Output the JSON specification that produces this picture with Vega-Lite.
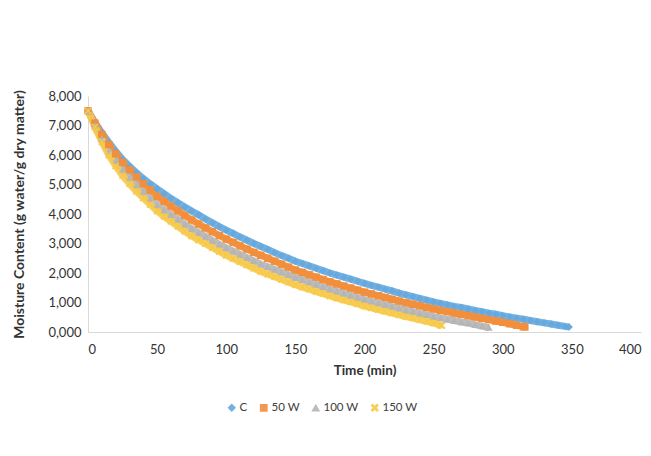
{
  "$schema": "https://vega.github.io/schema/vega-lite/v6.json",
  "width": 553,
  "height": 236,
  "autosize": {"type": "none"},
  "padding": {"left": 88, "top": 96, "right": 10, "bottom": 124},
  "background": "white",
  "config": {"view": {"stroke": null}, "font": "Lato"},
  "data": {"values": [
    {"t":0,"C":7.50,"50 W":7.50,"100 W":7.50,"150 W":7.50},
    {"t":5,"C":7.10,"50 W":7.08,"100 W":7.00,"150 W":6.95},
    {"t":10,"C":6.75,"50 W":6.70,"100 W":6.55,"150 W":6.45},
    {"t":15,"C":6.43,"50 W":6.35,"100 W":6.13,"150 W":6.00},
    {"t":20,"C":6.13,"50 W":6.04,"100 W":5.80,"150 W":5.63},
    {"t":25,"C":5.85,"50 W":5.75,"100 W":5.50,"150 W":5.30},
    {"t":30,"C":5.62,"50 W":5.50,"100 W":5.23,"150 W":5.03},
    {"t":35,"C":5.40,"50 W":5.26,"100 W":4.98,"150 W":4.77},
    {"t":40,"C":5.20,"50 W":5.03,"100 W":4.75,"150 W":4.54},
    {"t":45,"C":5.02,"50 W":4.81,"100 W":4.52,"150 W":4.32},
    {"t":50,"C":4.85,"50 W":4.60,"100 W":4.30,"150 W":4.10},
    {"t":55,"C":4.69,"50 W":4.43,"100 W":4.13,"150 W":3.92},
    {"t":60,"C":4.53,"50 W":4.27,"100 W":3.97,"150 W":3.75},
    {"t":65,"C":4.38,"50 W":4.11,"100 W":3.81,"150 W":3.58},
    {"t":70,"C":4.24,"50 W":3.95,"100 W":3.65,"150 W":3.41},
    {"t":75,"C":4.10,"50 W":3.80,"100 W":3.50,"150 W":3.25},
    {"t":80,"C":3.97,"50 W":3.66,"100 W":3.37,"150 W":3.12},
    {"t":85,"C":3.83,"50 W":3.53,"100 W":3.24,"150 W":2.99},
    {"t":90,"C":3.70,"50 W":3.40,"100 W":3.10,"150 W":2.86},
    {"t":95,"C":3.57,"50 W":3.27,"100 W":2.97,"150 W":2.73},
    {"t":100,"C":3.45,"50 W":3.15,"100 W":2.85,"150 W":2.60},
    {"t":105,"C":3.34,"50 W":3.04,"100 W":2.74,"150 W":2.49},
    {"t":110,"C":3.22,"50 W":2.92,"100 W":2.63,"150 W":2.38},
    {"t":115,"C":3.11,"50 W":2.81,"100 W":2.52,"150 W":2.27},
    {"t":120,"C":3.00,"50 W":2.70,"100 W":2.41,"150 W":2.16},
    {"t":125,"C":2.90,"50 W":2.60,"100 W":2.30,"150 W":2.05},
    {"t":130,"C":2.80,"50 W":2.50,"100 W":2.21,"150 W":1.96},
    {"t":135,"C":2.69,"50 W":2.40,"100 W":2.12,"150 W":1.87},
    {"t":140,"C":2.59,"50 W":2.30,"100 W":2.03,"150 W":1.78},
    {"t":145,"C":2.50,"50 W":2.20,"100 W":1.94,"150 W":1.69},
    {"t":150,"C":2.40,"50 W":2.10,"100 W":1.85,"150 W":1.60},
    {"t":155,"C":2.32,"50 W":2.02,"100 W":1.77,"150 W":1.52},
    {"t":160,"C":2.24,"50 W":1.94,"100 W":1.69,"150 W":1.45},
    {"t":165,"C":2.16,"50 W":1.86,"100 W":1.61,"150 W":1.37},
    {"t":170,"C":2.08,"50 W":1.78,"100 W":1.53,"150 W":1.30},
    {"t":175,"C":2.00,"50 W":1.70,"100 W":1.45,"150 W":1.22},
    {"t":180,"C":1.93,"50 W":1.63,"100 W":1.38,"150 W":1.15},
    {"t":185,"C":1.86,"50 W":1.56,"100 W":1.31,"150 W":1.08},
    {"t":190,"C":1.79,"50 W":1.49,"100 W":1.24,"150 W":1.02},
    {"t":195,"C":1.72,"50 W":1.42,"100 W":1.17,"150 W":0.95},
    {"t":200,"C":1.65,"50 W":1.35,"100 W":1.10,"150 W":0.88},
    {"t":205,"C":1.58,"50 W":1.29,"100 W":1.04,"150 W":0.82},
    {"t":210,"C":1.52,"50 W":1.23,"100 W":0.98,"150 W":0.76},
    {"t":215,"C":1.45,"50 W":1.17,"100 W":0.92,"150 W":0.70},
    {"t":220,"C":1.39,"50 W":1.11,"100 W":0.86,"150 W":0.64},
    {"t":225,"C":1.32,"50 W":1.05,"100 W":0.80,"150 W":0.58},
    {"t":230,"C":1.26,"50 W":0.99,"100 W":0.74,"150 W":0.52},
    {"t":235,"C":1.20,"50 W":0.94,"100 W":0.69,"150 W":0.47},
    {"t":240,"C":1.14,"50 W":0.89,"100 W":0.63,"150 W":0.41},
    {"t":245,"C":1.08,"50 W":0.83,"100 W":0.58,"150 W":0.36},
    {"t":250,"C":1.02,"50 W":0.78,"100 W":0.52,"150 W":0.30},
    {"t":255,"C":0.97,"50 W":0.73,"100 W":0.48,"150 W":0.23},
    {"t":256,"C":null,"50 W":null,"100 W":null,"150 W":0.22},
    {"t":260,"C":0.92,"50 W":0.69,"100 W":0.43,"150 W":null},
    {"t":265,"C":0.87,"50 W":0.64,"100 W":0.39,"150 W":null},
    {"t":270,"C":0.83,"50 W":0.60,"100 W":0.34,"150 W":null},
    {"t":275,"C":0.78,"50 W":0.55,"100 W":0.30,"150 W":null},
    {"t":280,"C":0.73,"50 W":0.51,"100 W":0.25,"150 W":null},
    {"t":285,"C":0.69,"50 W":0.46,"100 W":0.20,"150 W":null},
    {"t":290,"C":0.64,"50 W":0.42,"100 W":0.15,"150 W":null},
    {"t":295,"C":0.60,"50 W":0.37,"100 W":null,"150 W":null},
    {"t":300,"C":0.55,"50 W":0.33,"100 W":null,"150 W":null},
    {"t":305,"C":0.51,"50 W":0.28,"100 W":null,"150 W":null},
    {"t":310,"C":0.47,"50 W":0.23,"100 W":null,"150 W":null},
    {"t":315,"C":0.43,"50 W":0.18,"100 W":null,"150 W":null},
    {"t":316,"C":null,"50 W":0.17,"100 W":null,"150 W":null},
    {"t":320,"C":0.39,"50 W":null,"100 W":null,"150 W":null},
    {"t":325,"C":0.35,"50 W":null,"100 W":null,"150 W":null},
    {"t":330,"C":0.31,"50 W":null,"100 W":null,"150 W":null},
    {"t":335,"C":0.27,"50 W":null,"100 W":null,"150 W":null},
    {"t":340,"C":0.23,"50 W":null,"100 W":null,"150 W":null},
    {"t":345,"C":0.19,"50 W":null,"100 W":null,"150 W":null},
    {"t":348,"C":0.17,"50 W":null,"100 W":null,"150 W":null}
  ]},
  "transform": [
    {"fold": ["C", "50 W", "100 W", "150 W"], "as": ["series", "mc"]},
    {"filter": "datum.mc != null"}
  ],
  "encoding": {
    "x": {
      "field": "t", "type": "quantitative",
      "scale": {"domain": [0, 400], "nice": false},
      "axis": {
        "values": [0, 50, 100, 150, 200, 250, 300, 350, 400],
        "title": "Time (min)", "titleFontWeight": "bold", "titleFontSize": 13.5, "titleColor": "#333333",
        "titlePadding": 7,
        "labelFontSize": 13, "labelColor": "#333333", "labelPadding": 11,
        "ticks": false, "grid": false, "domainColor": "#d9d9d9", "domainWidth": 1
      }
    },
    "y": {
      "field": "mc", "type": "quantitative",
      "scale": {"domain": [0, 8], "nice": false},
      "axis": {
        "values": [0, 1, 2, 3, 4, 5, 6, 7, 8],
        "labelExpr": "replace(format(datum.value, '.3f'), '.', ',')",
        "title": "Moisture Content (g water/g dry matter)", "titleFontWeight": "bold", "titleFontSize": 14, "titleColor": "#333333",
        "titlePadding": 21,
        "labelFontSize": 13, "labelColor": "#333333", "labelPadding": 7,
        "ticks": false, "grid": false, "domainColor": "#d9d9d9", "domainWidth": 1
      }
    },
    "color": {
      "field": "series", "type": "nominal",
      "scale": {"domain": ["C", "50 W", "100 W", "150 W"], "range": ["#65A9DE", "#F28F3C", "#B5B5B5", "#F7C948"]},
      "legend": {
        "orient": "none", "legendX": 138, "legendY": 306, "direction": "horizontal",
        "title": null, "labelFontSize": 11.5, "labelColor": "#404040", "symbolSize": 40,
        "columnPadding": 9, "labelOffset": 2
      }
    }
  },
  "layer": [
    {
      "mark": {"type": "line", "strokeWidth": 7, "opacity": 0.9},
      "encoding": {"detail": {"field": "series"}}
    },
    {
      "mark": {"type": "point", "filled": true, "size": 55, "opacity": 1},
      "encoding": {
        "shape": {
          "field": "series", "type": "nominal",
          "scale": {"domain": ["C", "50 W", "100 W", "150 W"], "range": ["diamond", "square", "triangle-up", "M-1,-0.7L-0.7,-1L0,-0.3L0.7,-1L1,-0.7L0.3,0L1,0.7L0.7,1L0,0.3L-0.7,1L-1,0.7L-0.3,0Z"]},
          "legend": {
            "orient": "none", "legendX": 138, "legendY": 306, "direction": "horizontal",
            "title": null, "labelFontSize": 11.5, "labelColor": "#404040", "symbolSize": 40,
            "columnPadding": 9, "labelOffset": 2
          }
        }
      }
    }
  ]
}
